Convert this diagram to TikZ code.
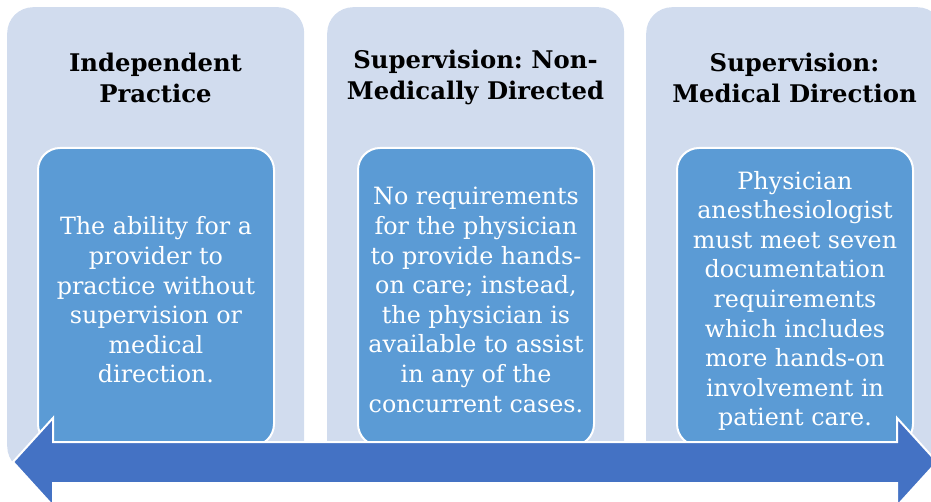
\documentclass[tikz,border=0pt]{standalone}
\usepackage{fontspec}
\setmainfont{DejaVu Serif}
\frenchspacing
\definecolor{colbg}{HTML}{D1DCEE}
\definecolor{boxbg}{HTML}{5B9BD5}
\definecolor{arrowbg}{HTML}{4472C4}
\tikzset{
  column/.style={fill=colbg, draw=none, rounded corners=26pt, minimum width=297pt, minimum height=465pt, anchor=north west, inner sep=0pt},
  title/.style={font=\fontsize{24.3}{31}\selectfont\bfseries, align=center, text=black, anchor=center},
  inbox/.style={fill=boxbg, draw=white, line width=2pt, rounded corners=22pt, minimum width=236pt, minimum height=298pt, anchor=north west, inner sep=0pt},
  intext/.style={font=\fontsize{23.8}{29.6}\selectfont, align=center, text=white, anchor=center},
  bigarrow/.style={fill=arrowbg, draw=white, line width=2pt, line join=miter}
}
\begin{document}
\begin{tikzpicture}[x=1pt,y=-1pt]
\useasboundingbox (0,0) rectangle (931,502);
% columns
\node[column] (c1) at (7,7) {};
\node[column] (c2) at (327,7) {};
\node[column] (c3) at (646,7) {};
% titles
\node[title] (t1) at (155.5,77.5) {Independent\\Practice};
\node[title] (t2) at (475.5,77.5) {Supervision: Non-\\Medically Directed};
\node[title] (t3) at (794.5,77.5) {Supervision:\\Medical Direction};
% inner boxes
\node[inbox] (b1) at (37,147) {};
\node[inbox] (b2) at (357,147) {};
\node[inbox] (b3) at (676,147) {};
\node[intext] (x1) at ([yshift=-3pt]b1.center) {The ability for a\\provider to\\practice without\\supervision or\\medical\\direction.};
\node[intext] (x2) at ([yshift=-3pt]b2.center) {No requirements\\for the physician\\to provide hands-\\on care; instead,\\the physician is\\available to assist\\in any of the\\concurrent cases.};
\node[intext] (x3) at ([yshift=-4pt]b3.center) {Physician\\anesthesiologist\\must meet seven\\documentation\\requirements\\which includes\\more hands-on\\involvement in\\patient care.};
% arrow
\coordinate (lt) at (13,462);
\coordinate (rt) at (937,462);
\draw[bigarrow] (lt) -- (53,418) -- (53,442) -- (897,442) -- (897,418) -- (rt) -- (897,506) -- (897,483) -- (53,483) -- (53,506) -- cycle;
\end{tikzpicture}
\end{document}
